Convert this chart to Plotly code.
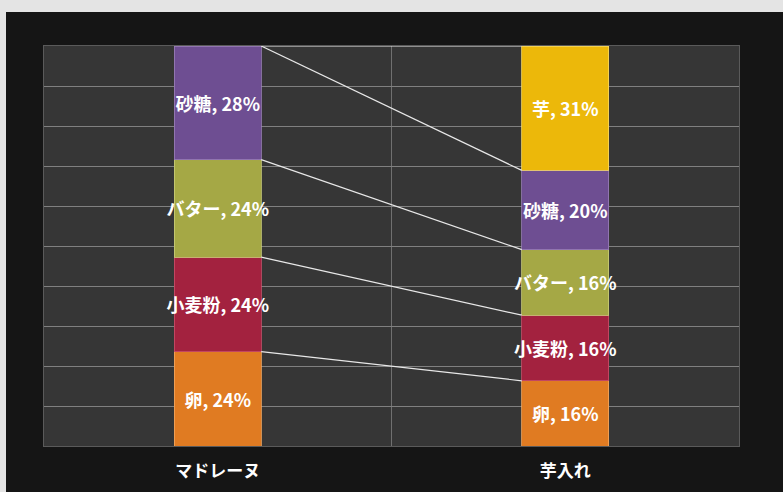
import plotly.graph_objects as go

categories = ["マドレーヌ", "芋入れ"]
series_names = ["卵", "小麦粉", "バター", "砂糖", "芋"]
values_madeleine = [23.6, 23.6, 24.4, 28.4, None]
values_imoire = [16.3, 16.4, 16.4, 19.8, 31.1]
colors = ["#e07b22", "#a3223f", "#a5a845", "#6e4e92", "#ecb80a"]
edge_colors = ["#f3a860", "#c9506a", "#c9cc78", "#9a80b8", "#f7d860"]

xpos = [0, 1]
bar_w = 0.25
font_family = "Noto Sans CJK JP, Noto Sans, sans-serif"

fig = go.Figure()
for i, name in enumerate(series_names):
    ys = [values_madeleine[i], values_imoire[i]]
    texts = [f"{name}, {round(v)}%" if v is not None else "" for v in ys]
    fig.add_trace(go.Bar(
        x=xpos, y=ys, name=name,
        width=bar_w, marker=dict(color=colors[i], line=dict(color=edge_colors[i], width=0.8)),
        text=texts, textposition="inside", insidetextanchor="middle",
        textfont=dict(color="white", size=18, family=font_family, weight="bold"),
        textangle=0, constraintext="none", cliponaxis=False,
        hoverinfo="skip",
    ))

# series lines connecting cumulative tops
cum_l, cum_r = 0.0, 0.0
for i, name in enumerate(series_names):
    cum_l += values_madeleine[i] or 0
    cum_r += values_imoire[i] or 0
    fig.add_trace(go.Scatter(
        x=[xpos[0] + bar_w / 2, xpos[1] - bar_w / 2], y=[cum_l, cum_r],
        mode="lines", line=dict(color="#e8e8e8", width=1.2),
        showlegend=False, hoverinfo="skip",
    ))

fig.update_layout(
    width=783, height=492,
    barmode="stack",
    showlegend=False,
    paper_bgcolor="#151515",
    plot_bgcolor="#363636",
    margin=dict(l=44, r=44, t=46, b=46),
    font=dict(family=font_family, color="white"),
    xaxis=dict(
        range=[-0.5, 1.5], tickmode="array", tickvals=xpos, ticktext=categories,
        showgrid=False, zeroline=False, ticks="", ticklabelstandoff=10, automargin=False,
        tickfont=dict(size=17, color="white", family=font_family, weight="bold"),
        minor=dict(tickmode="array", tickvals=[0.5], showgrid=True,
                   gridcolor="#707070", gridwidth=1, ticks=""),
        showline=True, mirror=True, linecolor="#5a5a5a", linewidth=1,
    ),
    yaxis=dict(
        range=[0, 100], dtick=10, showticklabels=False, ticks="", automargin=False,
        showgrid=True, gridcolor="#808080", gridwidth=1, zeroline=False,
        showline=True, mirror=True, linecolor="#5a5a5a", linewidth=1,
    ),
    shapes=[
        dict(type="rect", xref="paper", yref="paper",
             x0=-44 / 695, x1=739 / 695, y0=1 + 34 / 400, y1=1 + 46 / 400,
             fillcolor="#e4e4e4", line=dict(width=0), layer="above"),
        dict(type="rect", xref="paper", yref="paper",
             x0=-44 / 695, x1=-38 / 695, y0=-46 / 400, y1=1 + 46 / 400,
             fillcolor="#e4e4e4", line=dict(width=0), layer="above"),
    ],
)

fig.write_html("out.html")
